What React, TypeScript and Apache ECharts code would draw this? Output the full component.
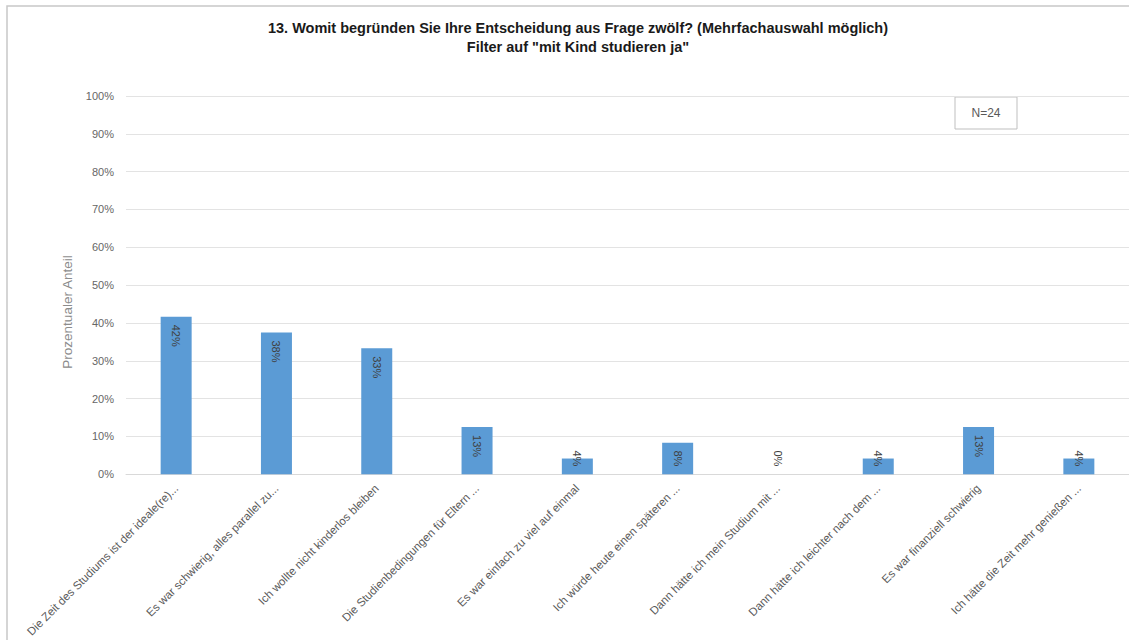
import React, { useEffect, useRef } from "react";
import * as echarts from "echarts";

// Survey question 13, filtered to respondents who studied with a child (N=24)
const titleLines = [
  "13. Womit begründen Sie Ihre Entscheidung aus Frage zwölf? (Mehrfachauswahl möglich)",
  'Filter auf "mit Kind studieren ja"',
];

const categories = [
  "Die Zeit des Studiums ist der ideale(re)...",
  "Es war schwierig, alles parallel zu...",
  "Ich wollte nicht kinderlos bleiben",
  "Die Studienbedingungen für Eltern ...",
  "Es war einfach zu viel auf einmal",
  "Ich würde heute einen späteren ...",
  "Dann hätte ich mein Studium mit ...",
  "Dann hätte ich leichter nach dem ...",
  "Es war finanziell schwierig",
  "Ich hätte die Zeit mehr genießen ...",
];

// share of respondents in percent
const shares = [41.67, 37.5, 33.33, 12.5, 4.17, 8.33, 0, 4.17, 12.5, 4.17];

const yAxisName = "Prozentualer Anteil";
const sampleNote = "N=24";

const FONT = "Liberation Sans, Arial, sans-serif";

export default function App() {
  const ref = useRef<HTMLDivElement>(null);

  useEffect(() => {
    document.body.style.margin = "0";
    if (!ref.current) return;
    const chart = echarts.init(ref.current, undefined, { renderer: "svg" });

    const labelBase = {
      show: true,
      rotate: -90,
      fontSize: 11,
      fontFamily: FONT,
      color: "#404040",
      verticalAlign: "middle",
      distance: 8,
      formatter: (p: any) => `${Math.round(p.value)}%`,
    };
    // tall bars carry the label just inside their top; short ones stand it on the axis
    const topLabel = { ...labelBase, position: "insideTop", align: "left" };
    const bottomLabel = { ...labelBase, position: "insideBottom", align: "right" };

    chart.setOption({
      animation: false,
      textStyle: { fontFamily: FONT },
      title: {
        text: titleLines.join("\n"),
        left: 573,
        top: 13,
        textAlign: "center",
        textStyle: {
          fontFamily: FONT,
          fontSize: 14.5,
          fontWeight: "bold",
          color: "#1a1a1a",
          lineHeight: 19,
        },
      },
      grid: { left: 126, right: -9, top: 96, bottom: 165, containLabel: false },
      xAxis: {
        type: "category",
        data: categories,
        axisTick: { show: false },
        axisLine: { lineStyle: { color: "#d9d9d9" } },
        axisLabel: {
          interval: 0,
          rotate: 45,
          fontSize: 11.5,
          fontFamily: FONT,
          color: "#595959",
          margin: 12,
          padding: [10, 0, 0, 0],
        },
      },
      yAxis: {
        type: "value",
        min: 0,
        max: 100,
        interval: 10,
        axisLine: { show: false },
        axisTick: { show: false },
        splitLine: { lineStyle: { color: "#e3e3e3" } },
        axisLabel: {
          formatter: "{value}%",
          fontSize: 11,
          fontFamily: FONT,
          color: "#666666",
          margin: 12,
        },
      },
      series: [
        {
          type: "bar",
          barWidth: 31,
          itemStyle: { color: "#5b9bd5" },
          data: shares.map((v) => ({
            value: v,
            label: v < 10 ? bottomLabel : topLabel,
          })),
        },
      ],
      graphic: [
        {
          type: "rect",
          shape: { x: 7, y: 6, width: 1200, height: 700 },
          style: { fill: "none", stroke: "#c8c8c8", lineWidth: 1.5 },
          silent: true,
        },
        {
          type: "text",
          x: 67,
          y: 312,
          rotation: Math.PI / 2,
          style: {
            text: yAxisName,
            fontFamily: FONT,
            fontSize: 13.5,
            fill: "#8c8c8c",
            align: "center",
            verticalAlign: "middle",
          },
        },
        {
          type: "rect",
          shape: { x: 955, y: 97, width: 62, height: 32 },
          style: { fill: "#ffffff", stroke: "#bfbfbf", lineWidth: 1 },
        },
        {
          type: "text",
          x: 986,
          y: 113,
          style: {
            text: sampleNote,
            fontFamily: FONT,
            fontSize: 12,
            fill: "#595959",
            align: "center",
            verticalAlign: "middle",
          },
        },
      ],
    });

    return () => chart.dispose();
  }, []);

  return <div ref={ref} style={{ width: 1129, height: 640 }} />;
}
